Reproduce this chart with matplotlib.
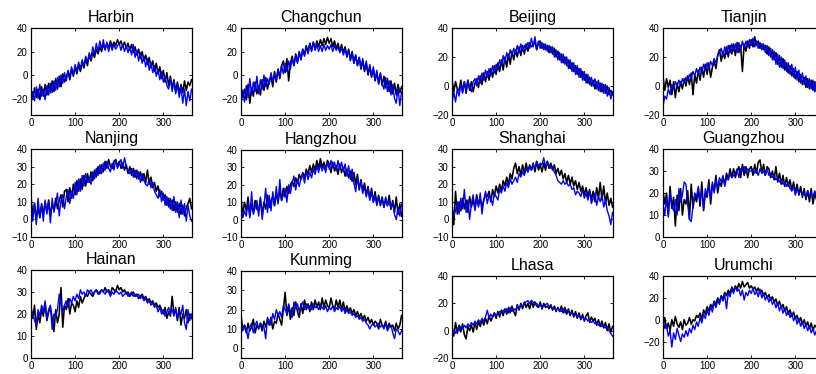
import numpy as np
import matplotlib
matplotlib.use('Agg')
import matplotlib.pyplot as plt

plt.rcParams['font.family'] = ['Liberation Sans', 'DejaVu Sans']

# day of year, one reading every 4 days
days = np.arange(0, 365, 4)

cities = ['Harbin', 'Changchun', 'Beijing', 'Tianjin',
          'Nanjing', 'Hangzhou', 'Shanghai', 'Guangzhou',
          'Hainan', 'Kunming', 'Lhasa', 'Urumchi']

ylims = [(-34, 40), (-34, 40), (-20, 40), (-20, 40),
         (-10, 40), (-10, 40), (-10, 40), (0, 40),
         (0, 40), (-5, 40), (-20, 40), (-35, 40)]

yticks = [[-20, 0, 20, 40], [-20, 0, 20, 40], [-20, 0, 20, 40], [-20, 0, 20, 40],
          [-10, 0, 10, 20, 30, 40], [-10, 0, 10, 20, 30, 40],
          [-10, 0, 10, 20, 30, 40], [0, 10, 20, 30, 40],
          [0, 10, 20, 30, 40], [0, 10, 20, 30, 40], [-20, 0, 20, 40], [-20, 0, 20, 40]]

xticks = [0, 100, 200, 300]

# observed (black) and model (blue) daily temperatures
harbin_obs = [-13, -20, -11, -19, -12, -21, -10, -18, -8, -17,
              -7, -15, -5, -14, -3, -12, -1, -10, 1, -6,
              -2, 3, -4, 5, -1, 7, 1, 9, 3, 11,
              6, 14, 8, 17, 12, 19, 15, 22, 18, 24,
              20, 26, 22, 27, 23, 29, 24, 28, 25, 30,
              26, 29, 24, 28, 23, 27, 21, 26, 19, 24,
              17, 22, 14, 20, 12, 17, 9, 15, 6, 12,
              3, 10, 1, 7, -3, 4, -6, 2, -9, -1,
              -12, -4, -14, -6, -16, -8, -15, -5, -13, -6,
              -9, -4]
harbin_sim = [-25, -14, -22, -10, -20, -8, -18, -12, -21, -9,
              -17, -7, -15, -5, -13, -2, -10, 0, -7, 2,
              -5, 4, -2, 7, 0, 9, 3, 11, 5, 13,
              8, 16, 11, 19, 14, 24, 17, 27, 20, 29,
              22, 30, 21, 28, 20, 27, 21, 26, 22, 25,
              27, 21, 26, 20, 25, 19, 24, 17, 26, 15,
              21, 12, 19, 10, 16, 7, 14, 4, 11, 2,
              8, -1, 5, -4, 3, -6, -1, -9, -12, -3,
              -14, -5, -16, -8, -19, -10, -24, -12, -26, -14,
              -22, -12]

changchun_obs = [-10, -19, -12, -21, -8, -24, -11, -18, -6, -16,
                 -9, -17, -4, -13, -2, -12, -5, -1, -10, 3,
                 -6, 5, -3, 8, 12, 2, 14, -5, 10, 16,
                 8, 18, 11, 20, 13, 22, 17, 25, 19, 27,
                 21, 28, 22, 29, 24, 30, 25, 31, 26, 32,
                 27, 31, 24, 29, 22, 27, 20, 26, 19, 24,
                 16, 22, 13, 20, 10, 17, 8, 15, 5, 12,
                 3, 10, 0, 7, -2, 5, -5, 2, -7, 1,
                 -9, -1, -11, -3, -14, -5, -16, -7, -17, -8,
                 -15, -10]
changchun_sim = [-26, -13, -23, -9, -19, -3, -17, -6, -14, -1,
                 -16, -4, -12, 0, -10, -3, -8, 2, -5, 1,
                 -4, 5, -1, 8, 1, 10, 3, 12, 5, 14,
                 8, 17, 10, 19, 13, 22, 16, 24, 18, 27,
                 20, 28, 21, 26, 20, 25, 20, 26, 21, 25,
                 22, 26, 20, 25, 21, 24, 19, 23, 17, 22,
                 15, 21, 12, 19, 10, 17, 8, 15, 6, 14,
                 4, 12, 1, 9, -1, 7, -4, 4, -8, 2,
                 -7, -12, -2, -14, -5, -17, -8, -20, -24, -11,
                 -26, -14]

beijing_obs = [4, -4, 3, -2, -3, 4, -4, 3, -5, 4,
               -3, 3, -4, 2, 5, -1, 7, 1, 9, 3,
               10, 4, 12, 6, 14, 8, 16, 10, 18, 11,
               20, 13, 22, 15, 24, 18, 25, 20, 27, 21,
               28, 22, 29, 24, 30, 27, 28, 31, 25, 30,
               31, 26, 29, 25, 28, 23, 27, 22, 26, 20,
               24, 18, 22, 16, 20, 14, 18, 12, 16, 10,
               14, 8, 12, 6, 10, 4, 8, 2, 6, 0,
               4, -2, 3, -3, 2, -4, 1, -5, 0, -6,
               -3, -6]
beijing_sim = [-12, -4, -11, -2, -7, 1, -5, 3, -3, 4,
               -1, -4, 3, 5, 0, 7, 2, 9, 4, 11,
               6, 12, 7, 14, 9, 15, 11, 18, 14, 21,
               16, 23, 19, 25, 21, 26, 22, 28, 23, 29,
               24, 28, 25, 30, 26, 33, 27, 34, 25, 31,
               26, 30, 25, 29, 24, 28, 23, 27, 20, 25,
               18, 23, 16, 22, 15, 20, 12, 18, 10, 16,
               8, 14, 6, 12, 4, 10, 2, 8, 1, 6,
               0, 5, -2, 4, -4, 2, -5, 1, -7, -1,
               -9, -4]

tianjin_obs = [6, -3, 5, -1, 4, -6, 3, -8, 2, -4,
               3, -2, 5, 0, 7, 1, 9, -6, 8, 2,
               11, 4, 13, 6, 15, 8, 16, 6, 13, 17,
               12, 21, 25, 17, 24, 19, 27, 20, 28, 22,
               29, 21, 30, 23, 28, 10, 29, 24, 31, 26,
               32, 27, 34, 28, 31, 26, 29, 25, 28, 22,
               27, 20, 25, 18, 23, 15, 21, 13, 19, 11,
               16, 9, 14, 7, 12, 5, 10, 3, 8, 1,
               6, -1, 5, -2, 4, -3, 3, -4, 2, -5,
               2, -3]
tianjin_sim = [-14, -7, -9, -2, -6, 1, -2, 3, 0, 4,
               1, 5, 2, 6, 4, 8, 5, 10, 7, 12,
               8, 13, 9, 15, 11, 16, 12, 17, 14, 19,
               16, 21, 23, 26, 20, 27, 22, 28, 23, 29,
               24, 29, 23, 30, 25, 31, 26, 31, 27, 32,
               28, 33, 27, 31, 26, 30, 25, 29, 23, 28,
               21, 26, 18, 24, 15, 22, 13, 20, 12, 18,
               10, 16, 8, 15, 6, 13, 4, 11, 2, 9,
               1, 7, -1, 5, -2, 4, -4, 3, -6, 1,
               -8, -4]

nanjing_obs = [13, 2, 9, 0, 7, 1, 9, 3, 10, 4,
               11, 2, 9, 5, 12, 6, 11, 14, 7, 16,
               17, 10, 18, 12, 20, 14, 22, 16, 23, 17,
               25, 19, 26, 21, 27, 22, 28, 24, 30, 26,
               31, 27, 33, 29, 34, 30, 29, 33, 34, 30,
               33, 29, 32, 28, 31, 26, 30, 25, 29, 24,
               28, 23, 27, 22, 26, 21, 28, 20, 24, 18,
               21, 16, 19, 13, 16, 11, 14, 8, 12, 6,
               11, 5, 10, 4, 9, 3, 8, 2, 7, 9,
               12, 6]
nanjing_sim = [7, -1, 9, -3, 12, 1, 8, -1, 11, 3,
               10, -2, 12, 4, 9, 15, 2, 11, 14, 6,
               13, 17, 9, 16, 12, 21, 14, 23, 16, 25,
               19, 26, 21, 24, 20, 27, 23, 29, 25, 31,
               26, 32, 28, 33, 29, 27, 32, 28, 34, 29,
               32, 34, 29, 35, 30, 28, 26, 29, 24, 28,
               23, 27, 21, 26, 22, 20, 19, 23, 18, 21,
               16, 14, 12, 17, 10, 15, 8, 13, 7, 12,
               5, 13, 4, 10, 1, 11, 3, 9, -1, 8,
               2, -1]

hangzhou_obs = [12, 3, 10, 5, 13, 2, 9, 4, 11, 6,
                5, 12, 3, 10, 6, 14, 7, 11, 13, 8,
                15, 10, 17, 11, 18, 13, 19, 15, 20, 22,
                19, 24, 21, 26, 23, 27, 24, 29, 26, 31,
                27, 32, 28, 34, 29, 35, 30, 33, 29, 34,
                32, 27, 33, 28, 31, 26, 32, 27, 30, 25,
                29, 24, 28, 22, 27, 20, 26, 17, 23, 16,
                21, 14, 19, 12, 18, 10, 16, 9, 14, 8,
                13, 7, 12, 8, 14, 6, 11, 4, 13, 3,
                9, 2]
hangzhou_sim = [9, 1, 5, 2, 10, 1, 16, 3, 7, 11,
                2, 13, 0, 8, 18, 4, 14, 5, 16, 8,
                19, 9, 23, 11, 14, 18, 10, 20, 15, 21,
                25, 17, 23, 19, 24, 26, 21, 28, 23, 27,
                24, 29, 26, 31, 27, 32, 28, 31, 27, 33,
                29, 34, 30, 33, 28, 34, 29, 33, 28, 32,
                25, 31, 23, 29, 21, 16, 24, 18, 22, 15,
                19, 13, 18, 11, 16, 10, 14, 8, 13, 9,
                12, 7, 13, 8, 11, 6, 10, 3, 0, 7,
                2, 9]

shanghai_obs = [6, -3, 16, 3, 10, 5, 12, 6, 11, 4,
                13, 7, 12, 6, 14, 8, 12, 7, 11, 14,
                13, 16, 10, 17, 13, 19, 15, 20, 16, 22,
                19, 24, 20, 26, 23, 29, 32, 26, 30, 25,
                31, 26, 32, 27, 31, 28, 32, 27, 33, 28,
                31, 27, 32, 28, 33, 29, 32, 28, 31, 26,
                29, 25, 28, 23, 26, 21, 25, 20, 24, 19,
                22, 17, 21, 16, 19, 14, 18, 13, 17, 11,
                16, 10, 18, 12, 21, 11, 19, 9, 15, 8,
                12, 7]
shanghai_sim = [8, 2, 5, 10, 3, 12, 6, 17, 4, 11,
                0, 9, 14, 5, 12, 7, 15, 3, 11, 16,
                9, 14, 12, 8, 15, 13, 11, 17, 15, 19,
                16, 21, 18, 23, 20, 22, 24, 21, 26, 24,
                27, 25, 29, 27, 30, 28, 31, 29, 33, 30,
                32, 31, 35, 30, 33, 31, 29, 30, 27, 25,
                22, 21, 20, 22, 20, 21, 19, 20, 17, 18,
                14, 16, 15, 13, 17, 12, 15, 11, 16, 9,
                12, 15, 8, 13, 10, 14, 7, 11, 5, 2,
                -3, 4]

guangzhou_obs = [21, 15, 20, 10, 23, 13, 18, 5, 19, 12,
                 22, 10, 17, 15, 21, 8, 24, 13, 19, 16,
                 22, 14, 25, 12, 20, 18, 26, 15, 24, 21,
                 28, 20, 25, 23, 27, 24, 29, 26, 31, 27,
                 31, 27, 30, 32, 27, 33, 28, 32, 27, 31,
                 32, 28, 33, 29, 34, 35, 29, 33, 28, 32,
                 31, 27, 30, 26, 32, 25, 29, 24, 28, 23,
                 27, 23, 26, 21, 25, 20, 24, 19, 23, 18,
                 22, 17, 21, 16, 22, 15, 20, 17, 16, 21,
                 15, 14]
guangzhou_sim = [15, 10, 18, 9, 20, 14, 12, 17, 10, 22,
                 16, 19, 25, 24, 15, 8, 7, 14, 20, 18,
                 23, 16, 21, 13, 22, 19, 24, 17, 25, 20,
                 26, 22, 27, 25, 28, 23, 27, 26, 29, 27,
                 28, 29, 31, 27, 31, 30, 32, 29, 31, 30,
                 30, 31, 29, 30, 28, 31, 29, 30, 28, 31,
                 28, 29, 27, 28, 26, 27, 25, 26, 24, 25,
                 23, 25, 22, 21, 23, 19, 22, 20, 21, 19,
                 20, 18, 21, 19, 20, 18, 21, 19, 20, 17,
                 12, 6]

hainan_obs = [22, 18, 24, 13, 20, 16, 22, 19, 25, 17,
              21, 23, 18, 12, 22, 16, 20, 32, 14, 24,
              22, 27, 20, 25, 24, 21, 26, 23, 28, 25,
              27, 29, 28, 30, 29, 28, 30, 31, 29, 30,
              31, 30, 32, 30, 31, 29, 32, 31, 30, 33,
              31, 32, 30, 31, 29, 30, 28, 29, 30, 28,
              29, 27, 28, 29, 27, 28, 26, 27, 25, 26,
              24, 25, 23, 24, 22, 20, 23, 18, 21, 19,
              28, 20, 22, 17, 23, 15, 20, 18, 22, 16,
              20, 18]
hainan_sim = [23, 20, 17, 15, 22, 19, 24, 21, 26, 18,
              22, 24, 13, 20, 19, 22, 29, 25, 21, 24,
              26, 23, 27, 25, 28, 26, 29, 27, 31, 29,
              30, 28, 31, 30, 31, 29, 30, 31, 30, 29,
              31, 30, 29, 31, 30, 28, 30, 29, 31, 30,
              29, 30, 28, 29, 30, 28, 29, 30, 28, 29,
              28, 29, 27, 28, 26, 27, 25, 26, 24, 25,
              23, 24, 21, 23, 20, 22, 19, 21, 23, 20,
              22, 19, 23, 18, 21, 20, 24, 16, 13, 22,
              17, 20]

kunming_obs = [17, 10, 12, 8, 13, 9, 11, 15, 8, 12,
               10, 13, 9, 14, 11, 15, 12, 16, 10, 14,
               13, 18, 15, 12, 20, 29, 17, 22, 15, 21,
               17, 24, 19, 16, 23, 18, 25, 20, 23, 19,
               24, 20, 25, 21, 24, 20, 26, 21, 25, 22,
               21, 26, 22, 20, 25, 21, 25, 20, 24, 19,
               22, 19, 21, 18, 20, 17, 19, 16, 18, 15,
               17, 14, 16, 13, 15, 12, 14, 13, 10, 15,
               12, 11, 14, 10, 13, 11, 12, 9, 13, 10,
               12, 17]
kunming_sim = [11, 9, 12, 10, 5, 11, 13, 8, 12, 14,
               10, 13, 12, 11, 5, 16, 14, 12, 18, 15,
               20, 17, 19, 16, 22, 20, 18, 23, 19, 16,
               24, 21, 23, 19, 22, 24, 20, 23, 21, 22,
               20, 23, 21, 22, 20, 23, 21, 20, 22, 19,
               21, 20, 22, 19, 21, 20, 22, 19, 21, 18,
               20, 18, 19, 17, 18, 16, 17, 15, 16, 14,
               15, 13, 12, 10, 12, 13, 11, 12, 13, 11,
               12, 10, 13, 9, 11, 12, 8, 5, 10, 9,
               7, 9]

lhasa_obs = [3, -4, 6, -2, 4, -1, 5, -3, -6, 3,
             0, 4, -1, 6, 1, 7, 3, 8, 4, 9,
             5, 11, 7, 10, 13, 9, 14, 10, 15, 11,
             16, 12, 17, 13, 18, 14, 11, 19, 15, 20,
             16, 21, 17, 20, 16, 22, 17, 21, 18, 17,
             21, 16, 20, 17, 18, 16, 19, 15, 18, 14,
             17, 14, 18, 13, 17, 12, 16, 11, 15, 10,
             14, 9, 13, 8, 12, 7, 11, 13, 6, 10,
             7, 9, 4, 8, 3, 7, 2, 6, 0, 5,
             -1, 3]
lhasa_sim = [-5, 0, -2, 2, 0, 3, 1, 4, 2, 5,
             3, 6, 4, 7, 5, 8, 6, 9, 7, 10,
             15, 9, 12, 10, 13, 11, 12, 14, 13, 15,
             14, 16, 13, 17, 14, 16, 15, 18, 16, 19,
             18, 20, 21, 22, 20, 22, 21, 19, 20, 18,
             19, 17, 18, 19, 20, 18, 17, 16, 17, 15,
             16, 15, 14, 16, 13, 15, 14, 12, 13, 11,
             12, 10, 11, 9, 10, 8, 9, 7, 8, 6,
             7, 5, 6, 4, 5, 3, 4, 2, 3, 0,
             -2, -4]

urumchi_obs = [-5, 2, -8, -3, -10, 0, -6, 3, -4, -7,
               -2, -9, 0, -5, -3, 2, -4, 0, -1, 4,
               2, 6, 0, 9, 5, 12, 8, 14, 11, 17,
               14, 20, 16, 22, 19, 25, 22, 27, 24, 30,
               26, 31, 28, 33, 29, 35, 30, 32, 34, 29,
               31, 28, 30, 26, 29, 24, 27, 22, 25, 20,
               23, 18, 21, 16, 19, 13, 17, 11, 14, 8,
               12, 5, 9, 3, 7, 1, 4, -2, 2, -4,
               0, -6, -2, -8, -3, -10, -5, -7, -9, -4,
               -8, -6]
urumchi_sim = [3, -8, -5, -15, -10, -25, -12, -18, -8, -14,
               -20, -13, -16, -10, -15, -8, -12, -5, -9, -2,
               -6, 2, -3, 5, 1, 9, 4, 12, 7, 16,
               11, 18, 14, 21, 17, 23, 10, 25, 21, 28,
               24, 30, 26, 28, 22, 27, 18, 25, 22, 27,
               24, 29, 23, 26, 21, 28, 20, 24, 18, 22,
               16, 20, 14, 17, 11, 15, 8, 13, 6, 10,
               4, 8, 2, 6, -1, 3, -4, 1, -6, -2,
               -8, -4, -10, -6, -12, -8, -14, -10, -16, -12,
               -18, -14]

obs = [harbin_obs, changchun_obs, beijing_obs, tianjin_obs,
       nanjing_obs, hangzhou_obs, shanghai_obs, guangzhou_obs,
       hainan_obs, kunming_obs, lhasa_obs, urumchi_obs]
sim = [harbin_sim, changchun_sim, beijing_sim, tianjin_sim,
       nanjing_sim, hangzhou_sim, shanghai_sim, guangzhou_sim,
       hainan_sim, kunming_sim, lhasa_sim, urumchi_sim]

W, H = 816, 374
fig = plt.figure(figsize=(W / 100, H / 100), dpi=100)

# axes boxes in pixels: left edges per column, top/bottom per panel
lefts = [31, 241, 452, 663]
box_w = 161
tops = [28, 28, 28, 28, 149, 150, 149, 149, 270, 271, 276, 276]
bottoms = [115, 115, 115, 115, 237, 237, 237, 237, 358, 358, 358, 358]

for i, city in enumerate(cities):
    l = lefts[i % 4]
    t, b = tops[i], bottoms[i]
    ax = fig.add_axes([l / W, 1 - b / H, box_w / W, (b - t) / H])
    ax.plot(days, obs[i], color='black', lw=1.15)
    ax.plot(days, sim[i], color='#0000ff', lw=1.0)
    ax.set_xlim(0, 365)
    ax.set_ylim(*ylims[i])
    ax.set_xticks(xticks)
    ax.set_yticks(yticks[i])
    ax.tick_params(direction='in', top=True, right=True, length=2.5,
                   width=0.6, labelsize=7, pad=2.5, colors='black')
    for s in ax.spines.values():
        s.set_linewidth(0.9)
    ax.set_title(city, fontsize=11.5, pad=4)

fig.savefig('out.png', dpi=100)
